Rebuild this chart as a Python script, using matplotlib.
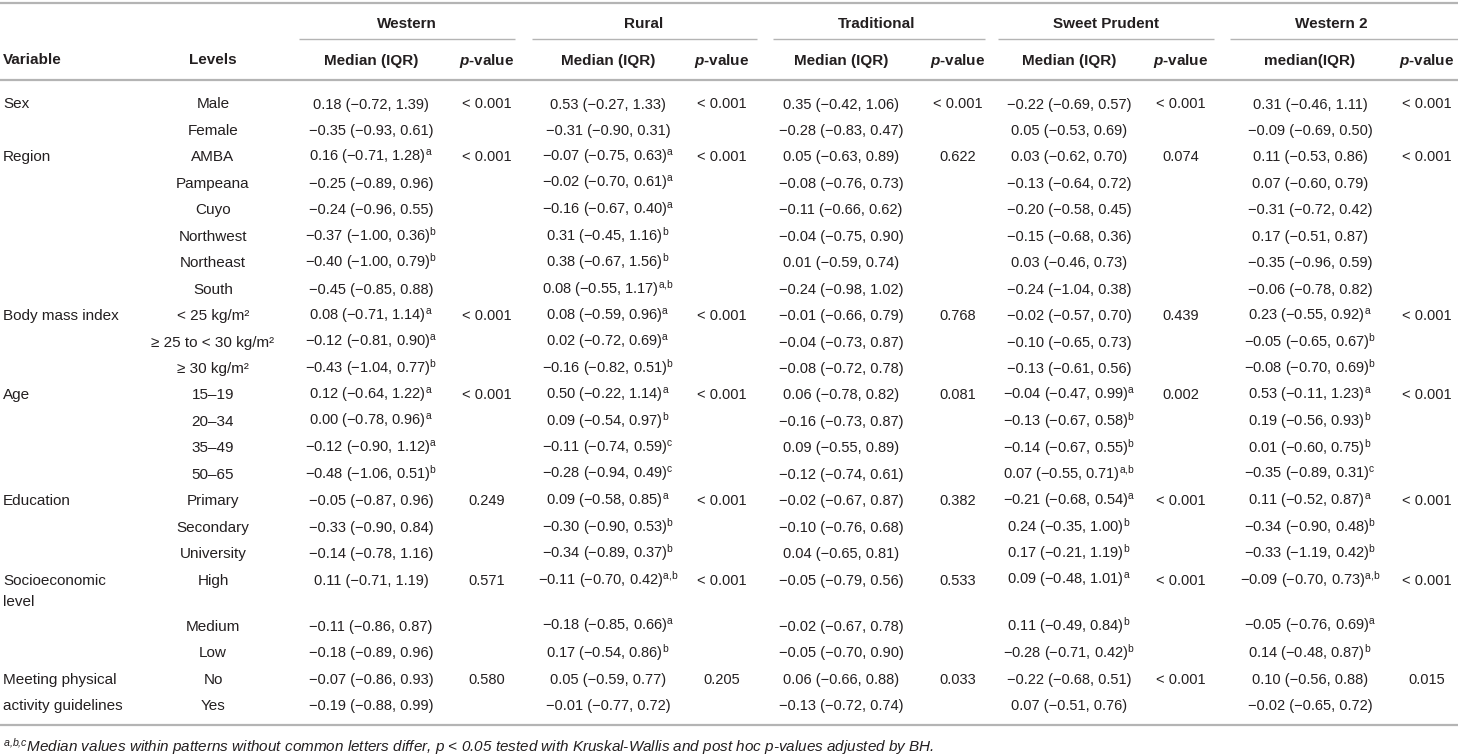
import matplotlib
matplotlib.use("Agg")
import matplotlib.pyplot as plt

plt.rcParams["font.family"] = ["Liberation Sans", "DejaVu Sans"]
plt.rcParams["mathtext.fontset"] = "custom"
plt.rcParams["mathtext.rm"] = "Liberation Sans"
plt.rcParams["mathtext.it"] = "Liberation Sans:italic"
plt.rcParams["mathtext.bf"] = "Liberation Sans:bold"
plt.rcParams["mathtext.bfit"] = "Liberation Sans:italic:bold"

# Datos de la tabla
variables = ["Sex", "Region", "Body mass index", "Age", "Education",
             "Socioeconomic\nlevel", "Meeting physical\nactivity guidelines"]
niveles = [
    ["Male", "Female"],
    ["AMBA", "Pampeana", "Cuyo", "Northwest", "Northeast", "South"],
    ["< 25 kg/m²", "≥ 25 to < 30 kg/m²", "≥ 30 kg/m²"],
    ["15–19", "20–34", "35–49", "50–65"],
    ["Primary", "Secondary", "University"],
    ["High", "Medium", "Low"],
    ["No", "Yes"],
]
patrones = ["Western", "Rural", "Traditional", "Sweet Prudent", "Western 2"]
subtitulos = ["Median (IQR)", "Median (IQR)", "Median (IQR)", "Median (IQR)", "median(IQR)"]

# (mediana, p25, p75, letras)
western = [
    (0.18, -0.72, 1.39, ""), (-0.35, -0.93, 0.61, ""),
    (0.16, -0.71, 1.28, "a"), (-0.25, -0.89, 0.96, ""), (-0.24, -0.96, 0.55, ""),
    (-0.37, -1.00, 0.36, "b"), (-0.40, -1.00, 0.79, "b"), (-0.45, -0.85, 0.88, ""),
    (0.08, -0.71, 1.14, "a"), (-0.12, -0.81, 0.90, "a"), (-0.43, -1.04, 0.77, "b"),
    (0.12, -0.64, 1.22, "a"), (0.00, -0.78, 0.96, "a"), (-0.12, -0.90, 1.12, "a"),
    (-0.48, -1.06, 0.51, "b"),
    (-0.05, -0.87, 0.96, ""), (-0.33, -0.90, 0.84, ""), (-0.14, -0.78, 1.16, ""),
    (0.11, -0.71, 1.19, ""), (-0.11, -0.86, 0.87, ""), (-0.18, -0.89, 0.96, ""),
    (-0.07, -0.86, 0.93, ""), (-0.19, -0.88, 0.99, ""),
]
rural = [
    (0.53, -0.27, 1.33, ""), (-0.31, -0.90, 0.31, ""),
    (-0.07, -0.75, 0.63, "a"), (-0.02, -0.70, 0.61, "a"), (-0.16, -0.67, 0.40, "a"),
    (0.31, -0.45, 1.16, "b"), (0.38, -0.67, 1.56, "b"), (0.08, -0.55, 1.17, "a,b"),
    (0.08, -0.59, 0.96, "a"), (0.02, -0.72, 0.69, "a"), (-0.16, -0.82, 0.51, "b"),
    (0.50, -0.22, 1.14, "a"), (0.09, -0.54, 0.97, "b"), (-0.11, -0.74, 0.59, "c"),
    (-0.28, -0.94, 0.49, "c"),
    (0.09, -0.58, 0.85, "a"), (-0.30, -0.90, 0.53, "b"), (-0.34, -0.89, 0.37, "b"),
    (-0.11, -0.70, 0.42, "a,b"), (-0.18, -0.85, 0.66, "a"), (0.17, -0.54, 0.86, "b"),
    (0.05, -0.59, 0.77, ""), (-0.01, -0.77, 0.72, ""),
]
traditional = [
    (0.35, -0.42, 1.06, ""), (-0.28, -0.83, 0.47, ""),
    (0.05, -0.63, 0.89, ""), (-0.08, -0.76, 0.73, ""), (-0.11, -0.66, 0.62, ""),
    (-0.04, -0.75, 0.90, ""), (0.01, -0.59, 0.74, ""), (-0.24, -0.98, 1.02, ""),
    (-0.01, -0.66, 0.79, ""), (-0.04, -0.73, 0.87, ""), (-0.08, -0.72, 0.78, ""),
    (0.06, -0.78, 0.82, ""), (-0.16, -0.73, 0.87, ""), (0.09, -0.55, 0.89, ""),
    (-0.12, -0.74, 0.61, ""),
    (-0.02, -0.67, 0.87, ""), (-0.10, -0.76, 0.68, ""), (0.04, -0.65, 0.81, ""),
    (-0.05, -0.79, 0.56, ""), (-0.02, -0.67, 0.78, ""), (-0.05, -0.70, 0.90, ""),
    (0.06, -0.66, 0.88, ""), (-0.13, -0.72, 0.74, ""),
]
sweet_prudent = [
    (-0.22, -0.69, 0.57, ""), (0.05, -0.53, 0.69, ""),
    (0.03, -0.62, 0.70, ""), (-0.13, -0.64, 0.72, ""), (-0.20, -0.58, 0.45, ""),
    (-0.15, -0.68, 0.36, ""), (0.03, -0.46, 0.73, ""), (-0.24, -1.04, 0.38, ""),
    (-0.02, -0.57, 0.70, ""), (-0.10, -0.65, 0.73, ""), (-0.13, -0.61, 0.56, ""),
    (-0.04, -0.47, 0.99, "a"), (-0.13, -0.67, 0.58, "b"), (-0.14, -0.67, 0.55, "b"),
    (0.07, -0.55, 0.71, "a,b"),
    (-0.21, -0.68, 0.54, "a"), (0.24, -0.35, 1.00, "b"), (0.17, -0.21, 1.19, "b"),
    (0.09, -0.48, 1.01, "a"), (0.11, -0.49, 0.84, "b"), (-0.28, -0.71, 0.42, "b"),
    (-0.22, -0.68, 0.51, ""), (0.07, -0.51, 0.76, ""),
]
western2 = [
    (0.31, -0.46, 1.11, ""), (-0.09, -0.69, 0.50, ""),
    (0.11, -0.53, 0.86, ""), (0.07, -0.60, 0.79, ""), (-0.31, -0.72, 0.42, ""),
    (0.17, -0.51, 0.87, ""), (-0.35, -0.96, 0.59, ""), (-0.06, -0.78, 0.82, ""),
    (0.23, -0.55, 0.92, "a"), (-0.05, -0.65, 0.67, "b"), (-0.08, -0.70, 0.69, "b"),
    (0.53, -0.11, 1.23, "a"), (0.19, -0.56, 0.93, "b"), (0.01, -0.60, 0.75, "b"),
    (-0.35, -0.89, 0.31, "c"),
    (0.11, -0.52, 0.87, "a"), (-0.34, -0.90, 0.48, "b"), (-0.33, -1.19, 0.42, "b"),
    (-0.09, -0.70, 0.73, "a,b"), (-0.05, -0.76, 0.69, "a"), (0.14, -0.48, 0.87, "b"),
    (0.10, -0.56, 0.88, ""), (-0.02, -0.65, 0.72, ""),
]
p_western = ["< 0.001", "< 0.001", "< 0.001", "< 0.001", "0.249", "0.571", "0.580"]
p_rural = ["< 0.001", "< 0.001", "< 0.001", "< 0.001", "< 0.001", "< 0.001", "0.205"]
p_traditional = ["< 0.001", "0.622", "0.768", "0.081", "0.382", "0.533", "0.033"]
p_sweet = ["< 0.001", "0.074", "0.439", "0.002", "< 0.001", "< 0.001", "< 0.001"]
p_western2 = ["< 0.001", "< 0.001", "< 0.001", "< 0.001", "< 0.001", "< 0.001", "0.015"]

columnas = [western, rural, traditional, sweet_prudent, western2]
pvalores = [p_western, p_rural, p_traditional, p_sweet, p_western2]

# Disposicion (pixeles)
x_titulo = [407, 644, 877, 1106, 1331]
tramos = [(299, 515), (532, 757), (773, 985), (998, 1214), (1230, 1458)]
x_mediana = [371, 608, 841, 1069, 1310]
x_p = [487, 722, 958, 1181, 1427]
x_var, x_niv = 3, 213
y0, paso = 103, 26.45
# indice de fila (en pasos) de cada nivel; "High" ocupa dos lineas
fila = list(range(19)) + [19.75, 20.75, 21.75, 22.75]
gris = "#b4b4b4"
tinta = "#231f20"
talla, talla_num = 11, 10.5

fig = plt.figure(figsize=(14.58, 7.56), dpi=100)
ax = fig.add_axes([0, 0, 1, 1])
ax.set_xlim(0, 1458)
ax.set_ylim(756, 0)
ax.axis("off")

def base(yc):
    return yc + 5.5

# lineas
for yl in (3, 80, 725):
    ax.plot([0, 1458], [yl, yl], color=gris, lw=1.6, solid_capstyle="butt")
for a, b in tramos:
    ax.plot([a, b], [39, 39], color=gris, lw=1.0, solid_capstyle="butt")

# cabecera
for nom, xt in zip(patrones, x_titulo):
    ax.text(xt, base(22), nom, ha="center", va="baseline", fontsize=talla,
            fontweight="bold", color=tinta)
ax.text(x_var, base(59), "Variable", ha="left", va="baseline", fontsize=talla,
        fontweight="bold", color=tinta)
ax.text(x_niv, base(59), "Levels", ha="center", va="baseline", fontsize=talla,
        fontweight="bold", color=tinta)
for sub, xm, xp in zip(subtitulos, x_mediana, x_p):
    ax.text(xm, base(59), sub, ha="center", va="baseline", fontsize=talla,
            fontweight="bold", color=tinta)
    ax.text(xp, base(59), r"$\mathbfit{p}$-value", ha="center", va="baseline",
            fontsize=talla, fontweight="bold", color=tinta)

def fmt(v):
    return f"{v:.2f}".replace("-", "−")

# cuerpo
k = 0
primeras = []
for var, nivs in zip(variables, niveles):
    primeras.append(k)
    lineas = var.split("\n")
    y_l1 = y0 + fila[k] * paso
    ax.text(x_var, base(y_l1), lineas[0], ha="left", va="baseline",
            fontsize=talla, color=tinta)
    if len(lineas) > 1:
        salto = paso if nivs[0] == "No" else 21
        ax.text(x_var, base(y_l1 + salto), lineas[1], ha="left", va="baseline",
                fontsize=talla, color=tinta)
    for niv in nivs:
        ax.text(x_niv, base(y0 + fila[k] * paso), niv, ha="center",
                va="baseline", fontsize=talla, color=tinta)
        k += 1

for col, pv, xm, xp in zip(columnas, pvalores, x_mediana, x_p):
    for i, (m, lo, hi, sup) in enumerate(col):
        s = f"{fmt(m)} ({fmt(lo)}, {fmt(hi)})"
        if sup:
            s += r"$^{\mathregular{" + sup.replace(",", "{,}") + "}}$"
        ax.text(xm, base(y0 + fila[i] * paso), s, ha="center", va="baseline",
                fontsize=talla_num, color=tinta)
    for j, p in zip(primeras, pv):
        ax.text(xp, base(y0 + fila[j] * paso), p, ha="center", va="baseline",
                fontsize=talla_num, color=tinta)

# nota al pie
ax.text(x_var, 751.5,
        r"$^{\mathregular{a{,}b{,}c}}$Median values within patterns without common letters "
        "differ, p < 0.05 tested with Kruskal-Wallis and post hoc p-values adjusted by BH.",
        ha="left", va="baseline", fontsize=11, style="italic", color=tinta)

fig.savefig("out.png", dpi=100)
